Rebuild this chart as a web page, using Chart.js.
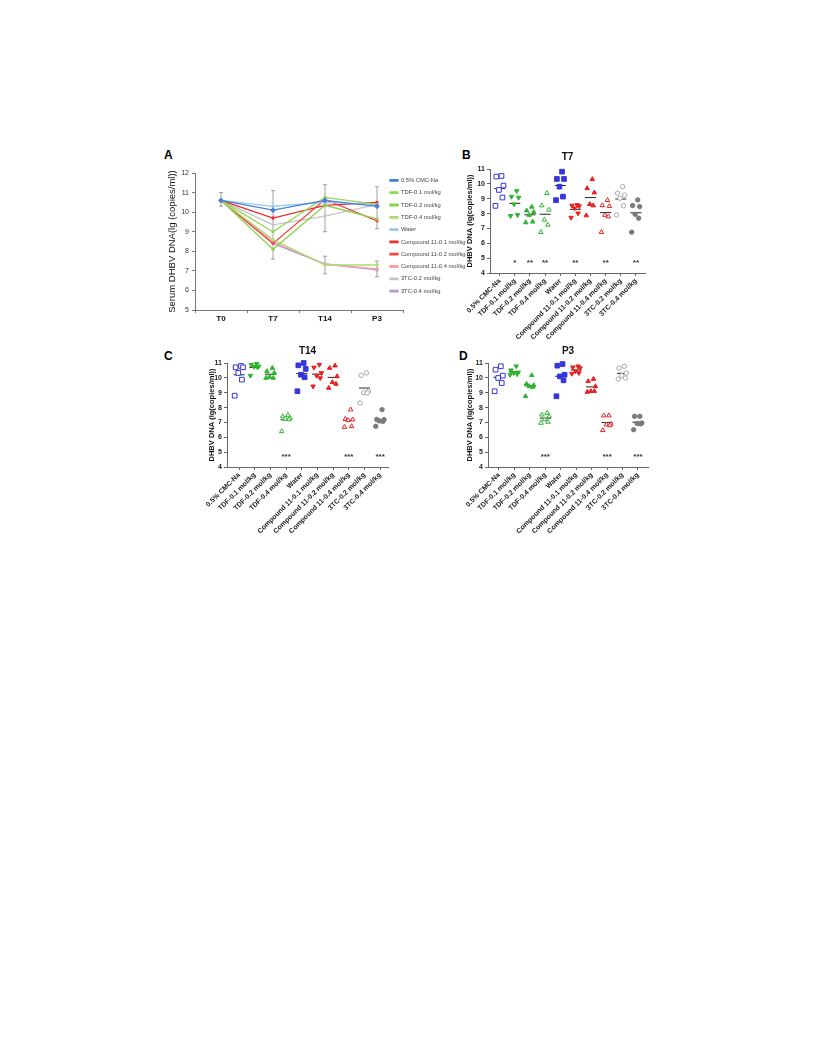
<!DOCTYPE html>
<html>
<head>
<meta charset="utf-8">
<script src="https://cdn.jsdelivr.net/npm/chart.js@4.4.1/dist/chart.umd.min.js"></script>
<style>
  body { margin: 0; background: #fff; width: 816px; height: 1056px; position: relative; font-family: "Liberation Sans", Arial, sans-serif; }
  canvas { position: absolute; }
  .letter { position: absolute; font-weight: bold; font-size: 12px; color: #000; }
</style>
</head>
<body>
<div class="letter" style="left:164px;top:148px">A</div>
<div class="letter" style="left:462px;top:148px">B</div>
<div class="letter" style="left:164px;top:349px">C</div>
<div class="letter" style="left:459px;top:349px">D</div>

<canvas id="chartA" width="305" height="165" style="left:165px;top:165px"></canvas>
<canvas id="chartB" width="200" height="205" style="left:455px;top:145px"></canvas>
<canvas id="chartC" width="206" height="210" style="left:192px;top:340px"></canvas>
<canvas id="chartD" width="205" height="210" style="left:453px;top:340px"></canvas>

<script>
const family = '"Liberation Sans", Arial, sans-serif';
Chart.defaults.font.family = family;
Chart.defaults.color = '#222';

// ---- data ----
const timePoints = ['T0', 'T7', 'T14', 'P3'];
const groups = ['0.5% CMC-Na', 'TDF-0.1 mol/kg', 'TDF-0.2 mol/kg', 'TDF-0.4 mol/kg', 'Water',
  'Compound 11-0.1 mol/kg', 'Compound 11-0.2 mol/kg', 'Compound 11-0.4 mol/kg', '3TC-0.2 mol/kg', '3TC-0.4 mol/kg'];

// panel A: group means over time
const meanCMC   = [10.6, 10.1, 10.6, 10.3];
const meanTDF01 = [10.6, 9.0, 10.75, 10.4];
const meanTDF02 = [10.6, 8.1, 10.35, 9.65];
const meanTDF04 = [10.6, 8.6, 7.3, 7.3];
const meanWater = [10.6, 10.3, 10.5, 10.4];
const meanC1101 = [10.6, 9.7, 10.35, 10.5];
const meanC1102 = [10.6, 8.4, 10.65, 9.55];
const meanC1104 = [10.6, 8.5, 7.35, 7.1];
const meanTC02  = [10.6, 9.35, 9.8, 10.4];
const meanTC04  = [10.6, 8.4, 7.35, 7.05];
// error bar ranges: [time index, low, high]
const errRanges = [[0, 10.3, 11.0], [1, 7.6, 11.1], [2, 9.0, 11.4], [2, 6.85, 7.75], [3, 9.15, 11.3], [3, 6.7, 7.5]];

// panels B-D: individual animals per group
const t7Points = [
  [10.53, 10.49, 9.88, 9.59, 9.08, 8.52],
  [9.52, 9.14, 9.08, 8.63, 7.91, 7.85],
  [8.45, 8.2, 8.1, 7.9, 7.45, 7.4],
  [9.37, 8.54, 8.25, 7.58, 7.24, 6.75],
  [10.82, 10.33, 10.33, 9.81, 9.14, 8.9],
  [8.58, 8.54, 8.5, 8.36, 8.02, 7.73],
  [10.31, 9.7, 9.41, 8.63, 8.54, 7.87],
  [8.9, 8.55, 8.5, 7.9, 7.8, 6.75],
  [9.81, 9.37, 9.25, 9.03, 8.52, 7.91],
  [8.92, 8.54, 8.47, 7.95, 7.69, 6.75]
];
const t14Points = [
  [10.8, 10.71, 10.71, 10.33, 9.88, 8.8],
  [10.95, 10.89, 10.78, 10.75, 10.71, 10.15],
  [10.66, 10.44, 10.33, 10.06, 9.99, 9.99],
  [7.5, 7.4, 7.3, 7.25, 7.2, 6.4],
  [11.0, 10.84, 10.6, 10.21, 10.04, 9.1],
  [10.89, 10.7, 10.33, 10.15, 9.99, 9.43],
  [10.82, 10.66, 10.1, 9.7, 9.59, 9.32],
  [7.86, 7.23, 7.19, 7.14, 6.74, 6.69],
  [10.33, 10.17, 9.1, 9.0, 8.98, 8.31],
  [7.86, 7.2, 7.19, 7.1, 7.07, 6.74]
];
const p3Points = [
  [10.78, 10.55, 10.15, 9.99, 9.65, 9.1],
  [10.78, 10.51, 10.37, 10.33, 10.26, 10.21],
  [10.17, 9.59, 9.5, 9.43, 9.38, 8.76],
  [7.63, 7.52, 7.41, 7.19, 7.03, 6.96],
  [10.93, 10.82, 10.21, 10.1, 9.83, 8.76],
  [10.78, 10.71, 10.66, 10.44, 10.33, 10.28],
  [9.92, 9.77, 9.43, 9.1, 9.1, 9.05],
  [7.46, 7.46, 6.9, 6.85, 6.8, 6.47],
  [10.78, 10.66, 10.33, 10.15, 9.99, 9.92],
  [7.41, 7.41, 6.96, 6.92, 6.9, 6.51]
];
const t7Stars  = ['', '*', '**', '**', '', '**', '', '**', '', '**'];
const t14Stars = ['', '', '', '***', '', '', '', '***', '', '***'];
const p3Stars  = ['', '', '', '***', '', '', '', '***', '', '***'];
const starLevel = 4.7;

// ---- styles ----
const lineColors = ['#4a7fd6', '#96d35a', '#8fd14f', '#a9dd73', '#9acbea', '#ee2a2a', '#f24545', '#f7a3a3', '#c4c4c4', '#b493cc'];
const lineMeans = [meanCMC, meanTDF01, meanTDF02, meanTDF04, meanWater, meanC1101, meanC1102, meanC1104, meanTC02, meanTC04];

const blue = '#3535d8', green = '#2fb52f', red = '#e62222';
const groupStyle = [
  { shape: 'rect', rot: 0, r: 3.3, color: blue, fill: false },
  { shape: 'triangle', rot: 180, r: 2.6, color: green, fill: true },
  { shape: 'triangle', rot: 0, r: 2.6, color: green, fill: true },
  { shape: 'triangle', rot: 0, r: 2.6, color: green, fill: false },
  { shape: 'rect', rot: 0, r: 3.3, color: blue, fill: true },
  { shape: 'triangle', rot: 180, r: 2.6, color: red, fill: true },
  { shape: 'triangle', rot: 0, r: 2.6, color: red, fill: true },
  { shape: 'triangle', rot: 0, r: 2.6, color: red, fill: false },
  { shape: 'circle', rot: 0, r: 2.2, color: '#a8a8a8', fill: false },
  { shape: 'circle', rot: 0, r: 2.2, color: '#7a7a7a', fill: true }
];
const jit = [0.12, -0.22, 0.25, -0.05, 0.18, -0.28];

// ---- panel A ----
const errorBars = {
  id: 'errorBars',
  beforeDatasetsDraw(chart) {
    const { ctx, scales: { x, y } } = chart;
    ctx.save();
    ctx.strokeStyle = '#8a8a8a';
    ctx.lineWidth = 0.8;
    errRanges.forEach(([i, lo, hi]) => {
      const px = x.getPixelForValue(i), y1 = y.getPixelForValue(lo), y2 = y.getPixelForValue(hi);
      ctx.beginPath();
      ctx.moveTo(px, y1); ctx.lineTo(px, y2);
      ctx.moveTo(px - 2, y1); ctx.lineTo(px + 2, y1);
      ctx.moveTo(px - 2, y2); ctx.lineTo(px + 2, y2);
      ctx.stroke();
    });
    ctx.restore();
  }
};

// move the legend so it overlaps the right end of the plot, like the original,
// and widen its box so the labels are not clipped
const legendShift = {
  id: 'legendShift',
  afterLayout(chart) {
    const lg = chart.legend;
    lg.left = chart.chartArea.right - 13 - lg.options.labels.padding;
    lg.right = chart.width;
    lg.top -= 2;
  }
};

new Chart(document.getElementById('chartA'), {
  type: 'line',
  data: {
    labels: timePoints,
    datasets: lineMeans.map((vals, i) => ({
      label: groups[i],
      data: vals,
      borderColor: lineColors[i],
      backgroundColor: lineColors[i],
      borderWidth: 1.3,
      pointStyle: i === 0 ? 'rectRot' : 'circle',
      pointRadius: i === 0 ? 2 : 1,
      tension: 0
    }))
  },
  options: {
    responsive: false,
    animation: false,
    layout: { padding: { left: 0, top: 8, right: 27, bottom: 0 } },
    scales: {
      x: {
        offset: true,
        grid: { offset: true, drawOnChartArea: false, tickLength: 3, color: '#777' },
        border: { color: '#777' },
        ticks: { font: { size: 8, weight: 'bold' }, color: '#111', padding: 1 },
        afterFit(s) { s.height = 20; s.paddingLeft = 0; s.paddingRight = 0; }
      },
      y: {
        min: 5, max: 12,
        ticks: { stepSize: 1, font: { size: 7 }, color: '#333', padding: 3 },
        grid: { drawOnChartArea: false, tickLength: 3, color: '#777' },
        border: { color: '#777' },
        title: { display: true, text: 'Serum DHBV DNA(lg (copies/ml))', font: { size: 9.5 }, color: '#111', padding: { top: 2, bottom: 0 } },
        afterFit(s) { s.width = 30; s.paddingTop = 0; s.paddingBottom = 0; }
      }
    },
    plugins: {
      legend: {
        position: 'right',
        align: 'start',
        maxWidth: 40,
        labels: { boxWidth: 8, boxHeight: 1.5, font: { size: 5.8 }, color: '#444', padding: 6.5 }
      },
      tooltip: { enabled: false }
    }
  },
  plugins: [errorBars, legendShift]
});

// ---- panels B-D ----
const starMarks = {
  id: 'stars',
  afterDatasetsDraw(chart, args, opts) {
    const { ctx, scales: { x, y } } = chart;
    ctx.save();
    ctx.font = `bold 8px ${family}`;
    ctx.fillStyle = '#333';
    ctx.textAlign = 'center';
    ctx.textBaseline = 'middle';
    opts.marks.forEach((s, i) => {
      if (s) ctx.fillText(s, x.getPixelForValue(i), y.getPixelForValue(starLevel));
    });
    ctx.restore();
  }
};

function dotChart(id, title, points, stars, p) {
  const datasets = points.map((vals, i) => ({
    type: 'scatter',
    data: vals.map((v, j) => ({ x: i + jit[j % jit.length], y: v })),
    pointStyle: groupStyle[i].shape,
    rotation: groupStyle[i].rot,
    pointRadius: groupStyle[i].r,
    borderWidth: 1,
    borderColor: groupStyle[i].color,
    backgroundColor: groupStyle[i].fill ? groupStyle[i].color : '#fff',
    clip: false
  }));
  // group means
  datasets.push({
    type: 'scatter',
    data: points.map((vals, i) => ({ x: i, y: vals.reduce((a, b) => a + b, 0) / vals.length })),
    pointStyle: 'line',
    pointRadius: 5.5,
    borderColor: '#222',
    borderWidth: 1,
    clip: false
  });

  new Chart(document.getElementById(id), {
    type: 'scatter',
    data: { datasets },
    options: {
      responsive: false,
      animation: false,
      layout: { padding: { left: 0, top: p.pt, right: p.pr, bottom: 0 } },
      scales: {
        x: {
          type: 'linear',
          min: p.xmin, max: p.xmax,
          afterBuildTicks(ax) { ax.ticks = groups.map((g, i) => ({ value: i })); },
          ticks: {
            autoSkip: false, minRotation: 45, maxRotation: 45,
            callback: v => groups[v],
            font: { size: 7, weight: 'bold' }, color: '#222', padding: 1
          },
          grid: { drawOnChartArea: false, tickLength: 3, color: '#666' },
          border: { color: '#666' },
          afterFit(s) { s.height = p.xh; s.paddingLeft = 0; s.paddingRight = 0; }
        },
        y: {
          min: 4, max: 11,
          ticks: { stepSize: 1, font: { size: 7, weight: 'bold' }, color: '#222', padding: 2 },
          grid: { drawOnChartArea: false, tickLength: 3, color: '#666' },
          border: { color: '#666' },
          title: { display: true, text: 'DHBV DNA (lg(copies/ml))', font: { size: 7.5, weight: 'bold' }, color: '#111', padding: { top: p.titleOff, bottom: 0 } },
          afterFit(s) { s.width = 35; s.paddingTop = 0; s.paddingBottom = 0; }
        }
      },
      plugins: {
        legend: { display: false },
        tooltip: { enabled: false },
        title: { display: true, text: title, fullSize: false, font: { size: 10, weight: 'bold' }, color: '#111', padding: { top: 0, bottom: 6 } },
        stars: { marks: stars }
      }
    },
    plugins: [starMarks]
  });
}

dotChart('chartB', 'T7', t7Points, t7Stars, { pt: 6, pr: 10, xh: 77, xmin: -0.64, xmax: 9.6, titleOff: 10.5 });
dotChart('chartC', 'T14', t14Points, t14Stars, { pt: 5, pr: 10, xh: 83, xmin: -0.77, xmax: 9.5, titleOff: 15.5 });
dotChart('chartD', 'P3', p3Points, p3Stars, { pt: 5, pr: 10, xh: 83, xmin: -0.71, xmax: 9.65, titleOff: 12.5 });
</script>
</body>
</html>
